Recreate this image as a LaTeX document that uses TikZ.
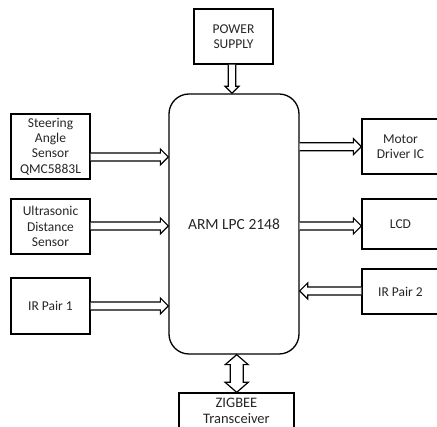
\documentclass[tikz,border=0pt]{standalone}
\usepackage{fontspec}
\setmainfont{Carlito}
\usetikzlibrary{calc}
\tikzset{
  box/.style={draw, line width=1.3pt, align=center, inner sep=0pt,
    text=black!85, font=\fontsize{13.5}{15.3}\selectfont},
  arr/.style={draw, fill=white, line width=1.2pt, line join=miter},
}
\newcommand\rarrow[3]{%
  \draw[arr] let \p1=(#1), \p2=(#2), \p3=(0,#3) in
    (\x1,\y3+4pt) -- (\x2-8pt,\y3+4pt) -- (\x2-8pt,\y3+8pt) -- (\x2,\y3)
    -- (\x2-8pt,\y3-8pt) -- (\x2-8pt,\y3-4pt) -- (\x1,\y3-4pt);}
\newcommand\larrow[3]{%
  \draw[arr] let \p1=(#1), \p2=(#2), \p3=(0,#3) in
    (\x1,\y3+4pt) -- (\x2+8pt,\y3+4pt) -- (\x2+8pt,\y3+8pt) -- (\x2,\y3)
    -- (\x2+8pt,\y3-8pt) -- (\x2+8pt,\y3-4pt) -- (\x1,\y3-4pt);}
\begin{document}
\begin{tikzpicture}[x=1pt,y=-1pt]
\useasboundingbox (0,0) rectangle (437,427);
\clip (0,0) rectangle (437,427);
\node[box, minimum width=79, minimum height=55] (power) at (233.5,36.5) {POWER\\SUPPLY};
\node[box, minimum width=130, minimum height=260, rounded corners=20pt,
      font=\fontsize{15.5}{18}\selectfont] (main) at (234,224) {ARM LPC 2148};
\node[box, minimum width=79, minimum height=65] (steer) at (50.5,146.5) {Steering\\Angle\\Sensor\\QMC5883L};
\node[box, minimum width=79, minimum height=55] (ultra) at (50.5,226.5) {Ultrasonic\\Distance\\Sensor};
\node[box, minimum width=79, minimum height=56] (ir1) at (50.5,306) {IR Pair 1};
\node[box, minimum width=77, minimum height=55] (motor) at (400.5,146.5) {Motor\\Driver IC};
\node[box, minimum width=77, minimum height=50] (lcd) at (400.5,224) {LCD};
\node[box, minimum width=77, minimum height=45] (ir2) at (400.5,291.5) {IR Pair 2};
\node[box, minimum width=115, minimum height=36, font=\fontsize{14.5}{16.5}\selectfont] (zig) at (236.5,411) {ZIGBEE\\Transceiver};
% arrows
\rarrow{steer.east}{main.west}{157}
\rarrow{ultra.east}{main.west}{226}
\rarrow{ir1.east}{main.west}{306}
\rarrow{main.east}{motor.west}{146.7}
\rarrow{main.east}{lcd.west}{226}
\larrow{ir2.west}{main.east}{291}
\draw[arr] let \p1=(power.south), \p2=(main.north), \p3=(232,0) in
  (\x3-3.7pt,\y1) -- (\x3-3.7pt,\y2+7pt) -- (\x3-7pt,\y2+7pt) -- (\x3,\y2)
  -- (\x3+7pt,\y2+7pt) -- (\x3+3.7pt,\y2+7pt) -- (\x3+3.7pt,\y1);
\draw[arr] let \p1=(main.south), \p2=(zig.north), \p3=(236.7,0) in
  (\x3,\y1) -- (\x3+11.5pt,\y1-10pt) -- (\x3+6.5pt,\y1-10pt) -- (\x3+6.5pt,\y2+10pt)
  -- (\x3+11.5pt,\y2+10pt) -- (\x3,\y2) -- (\x3-11.5pt,\y2+10pt) -- (\x3-6.5pt,\y2+10pt)
  -- (\x3-6.5pt,\y1-10pt) -- (\x3-11.5pt,\y1-10pt) -- cycle;
\end{tikzpicture}
\end{document}
